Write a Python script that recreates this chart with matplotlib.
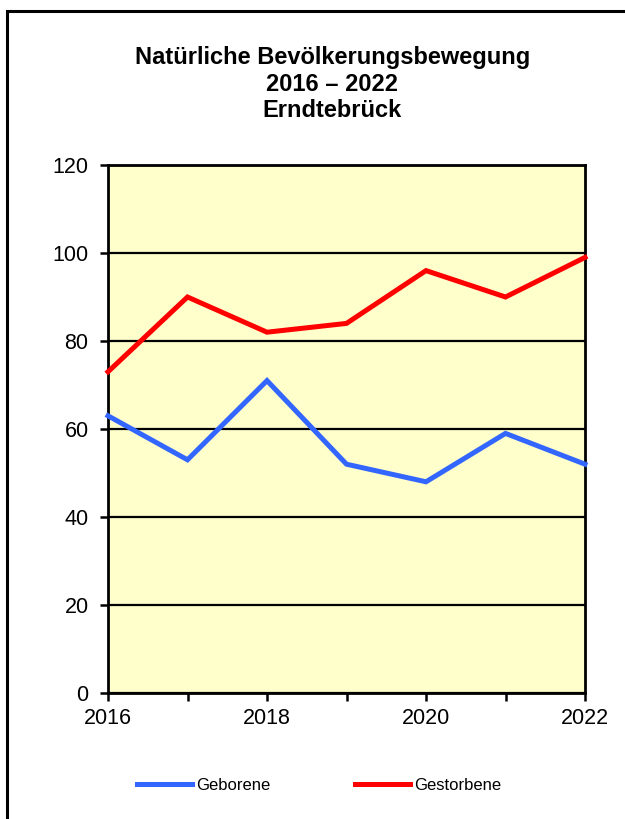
import matplotlib
matplotlib.use("Agg")
import matplotlib.pyplot as plt
from matplotlib.patches import Rectangle

years = [2016, 2017, 2018, 2019, 2020, 2021, 2022]
geborene = [63, 53, 71, 52, 48, 59, 52]
gestorbene = [73, 90, 82, 84, 96, 90, 99]
title_lines = ["Natürliche Bevölkerungsbewegung", "2016 – 2022", "Erndtebrück"]
xtick_labels = ["2016", "", "2018", "", "2020", "", "2022"]
yticks = [0, 20, 40, 60, 80, 100, 120]

plt.rcParams['font.family'] = ['Liberation Sans', 'DejaVu Sans']

W, H = 625, 819
fig = plt.figure(figsize=(W / 100, H / 100), dpi=100)

# outer border
fig.patches.append(Rectangle((7 / W, -0.05), (W - 7 + 20) / W, 1.05 - 11 / H,
                             transform=fig.transFigure, fill=False,
                             edgecolor='black', linewidth=2.2, zorder=0))

ax = fig.add_axes([108 / W, 1 - 693 / H, (585 - 108) / W, (693 - 165) / H])
ax.set_facecolor('#FFFFCC')

ax.plot(years, geborene, color='#3366FF', lw=3.6, label='Geborene',
        solid_joinstyle='miter', zorder=3)
ax.plot(years, gestorbene, color='#FF0000', lw=3.6, label='Gestorbene',
        solid_joinstyle='miter', zorder=3)

ax.set_xlim(years[0], years[-1])
ax.set_ylim(0, 120)
ax.set_yticks(yticks)
ax.set_xticks(years)
ax.set_xticklabels(xtick_labels)
ax.yaxis.grid(True, color='black', lw=1.6)
ax.set_axisbelow(True)
for s in ax.spines.values():
    s.set_linewidth(2)
    s.set_color('black')
ax.tick_params(axis='both', direction='out', length=6, width=1.8,
               labelsize=15.5, colors='black')
ax.tick_params(axis='x', pad=5)
ax.tick_params(axis='y', pad=8)
for ln in ax.lines:
    ln.set_clip_on(False)

fig.text(0.5 * (135 + 530) / W, 1 - 46 / H, "\n".join(title_lines),
         ha='center', va='top', fontsize=17, fontweight='bold',
         linespacing=1.2)

fig.legend(loc='center', bbox_to_anchor=(319 / W, 1 - 785 / H), ncol=2,
           frameon=False, fontsize=12, handlelength=3.3, handletextpad=0.25,
           columnspacing=5.1)

fig.savefig('out.png', dpi=100)
